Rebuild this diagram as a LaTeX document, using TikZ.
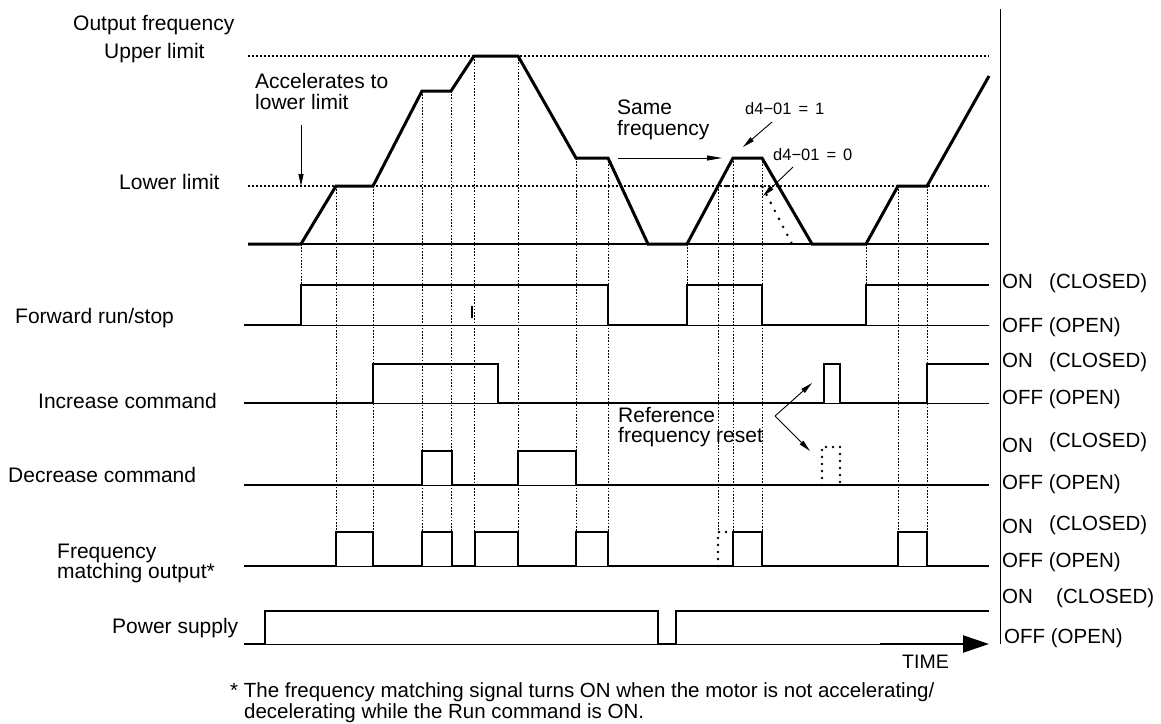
\documentclass[tikz,border=0pt]{standalone}
\usepackage{fontspec}
\setmainfont{Liberation Sans}
\usetikzlibrary{arrows.meta}
\begin{document}
\begin{tikzpicture}[x=1pt,y=-1pt,
  lbl/.style={inner sep=0pt, anchor=base west, font=\fontsize{21}{21}\selectfont},
  rlbl/.style={inner sep=0pt, anchor=base west, font=\fontsize{20.5}{21}\selectfont},
  small/.style={inner sep=0pt, anchor=base west, font=\fontsize{16.5}{17}\selectfont},
  foot/.style={inner sep=0pt, anchor=base west, font=\fontsize{20.5}{21}\selectfont},
  trace/.style={line width=3pt, line join=miter},
  sig/.style={line width=2.7pt, line join=miter},
  thinline/.style={line width=0.9pt},
  vdot/.style={line width=0.7pt, dash pattern=on 1.6pt off 1.6pt},
  limit/.style={line width=1.2pt, dash pattern=on 1.6pt off 2.4pt},
  bigdots/.style={line width=2.8pt, line cap=round, dash pattern=on 0pt off 9pt},
  ann/.style={line width=0.9pt, -{Triangle[length=12pt,width=5pt]}},
]
\useasboundingbox (0,0) rectangle (1161,723);

% limit lines and baseline of output frequency
\draw[limit] (248,56) -- (989,56);
\draw[limit] (248,186) -- (989,186);
\draw[line width=2.4pt] (248,244) -- (989,244);

% vertical dotted guide lines
\foreach \x/\a/\b in {301/244/285, 336/186/532, 373/186/532, 422/91/532, 451/91/532,
  474/56/532, 518/56/532, 576/158/532, 608/158/532, 687/244/285, 718/186/532,
  733/158/532, 762/158/532, 866/244/285, 898/186/532, 927/186/532}
  \draw[vdot] (\x,\a) -- (\x,\b);

% output frequency trace
\draw[trace] (248,244) -- (301,244) -- (336,186) -- (373,186) -- (422,91) -- (451,91)
  -- (474,56) -- (518,56) -- (576,158) -- (608,158) -- (648,244) -- (687,244)
  -- (733,158) -- (762,158) -- (812,244) -- (866,244) -- (898,186) -- (927,186) -- (989,76);
% d4-01 = 0 case
\draw[bigdots] (718,186) -- (762,186) -- (792,244);

% thin OFF levels
\foreach \y in {325,403,485,566}
  \draw[thinline] (244,\y) -- (989,\y);
\draw[thinline] (244,644) -- (965,644);

% Forward run/stop
\draw[sig] (244,325) -- (301,325) -- (301,285) -- (608,285) -- (608,325) -- (687,325)
  -- (687,285) -- (762,285) -- (762,325) -- (866,325) -- (866,285) -- (989,285);
\draw[line width=1.2pt] (472,306) -- (472,318);

% Increase command
\draw[sig] (244,403) -- (373,403) -- (373,364) -- (498,364) -- (498,403) -- (824,403)
  -- (824,364) -- (840,364) -- (840,403) -- (927,403) -- (927,364) -- (989,364);

% Decrease command
\draw[sig] (244,485) -- (422,485) -- (422,451) -- (452,451) -- (452,485) -- (518,485)
  -- (518,451) -- (576,451) -- (576,485) -- (989,485);
\draw[bigdots, dash pattern=on 0pt off 7pt] (822,485) -- (822,447) -- (840,447) -- (840,485);

% Frequency matching output
\draw[sig] (244,566) -- (336,566) -- (336,532) -- (373,532) -- (373,566) -- (422,566)
  -- (422,532) -- (452,532) -- (452,566) -- (475,566) -- (475,532) -- (518,532)
  -- (518,566) -- (576,566) -- (576,532) -- (608,532) -- (608,566) -- (733,566)
  -- (733,532) -- (762,532) -- (762,566) -- (898,566) -- (898,532) -- (927,532)
  -- (927,566) -- (989,566);
\draw[bigdots, dash pattern=on 0pt off 7pt] (718,566) -- (718,532) -- (733,532);

% Power supply
\draw[sig] (244,644) -- (265,644) -- (265,611) -- (658,611) -- (658,644) -- (676,644)
  -- (676,611) -- (989,611);

% time arrow and vertical axis
\coordinate (t0) at (880,644);
\coordinate (t1) at (989,644);
\draw[line width=2.2pt, -{Triangle[length=26pt,width=17pt]}] (t0) -- (t1);
\draw[line width=1pt] (1000,9) -- (1000,644);

% left labels
\node[lbl] (of) at (73,30) {Output frequency};
\node[lbl] (ul) at (104,58) {Upper limit};
\node[lbl] (ll) at (119,189) {Lower limit};
\node[lbl] (fr) at (15,323) {Forward run/stop};
\node[lbl] (ic) at (38,408) {Increase command};
\node[lbl] (dc) at (8,482) {Decrease command};
\node[lbl] (fm1) at (57,558) {Frequency};
\node[lbl] (fm2) at (57,578) {matching output*};
\node[lbl] (ps) at (112,633) {Power supply};

% annotations
\node[lbl] (acc1) at (255,88) {Accelerates to};
\node[lbl] (acc2) at (255,109) {lower limit};
\coordinate (acca) at (301,125);
\coordinate (accb) at (301,186);
\draw[ann] (acca) -- (accb);

\node[lbl] (sf1) at (617,114) {Same};
\node[lbl] (sf2) at (617,135) {frequency};
\coordinate (sfa) at (618,158);
\coordinate (sfb) at (722,158);
\draw[ann, -{Triangle[length=15pt,width=5pt]}] (sfa) -- (sfb);

\node[small] (d1) at (745,114) {d4−01\hspace{7pt}=\hspace{7pt}1};
\coordinate (d1a) at (772,122);
\coordinate (d1b) at (743,147);
\draw[ann] (d1a) -- (d1b);
\node[small] (d0) at (773,160) {d4−01\hspace{7pt}=\hspace{7pt}0};
\coordinate (d0a) at (793,167);
\coordinate (d0b) at (763,196);
\draw[ann] (d0a) -- (d0b);

\node[lbl] (ref1) at (618,422) {Reference};
\node[lbl] (ref2) at (618,442) {frequency reset};
\coordinate (rv) at (775,416);
\coordinate (ru) at (812,383);
\coordinate (rd) at (810,451);
\draw[ann] (rv) -- (ru);
\draw[ann] (rv) -- (rd);

\node[lbl, font=\fontsize{19.5}{20}\selectfont] (time) at (902,668) {TIME};

% right labels
\node[rlbl] (on1) at (1002,288) {ON};
\node[rlbl] (cl1) at (1049,288) {(CLOSED)};
\node[rlbl] (of1) at (1002,332) {OFF (OPEN)};
\node[rlbl] (on2) at (1002,367) {ON};
\node[rlbl] (cl2) at (1049,367) {(CLOSED)};
\node[rlbl] (of2) at (1002,404) {OFF (OPEN)};
\node[rlbl] (on3) at (1002,452) {ON};
\node[rlbl] (cl3) at (1049,447) {(CLOSED)};
\node[rlbl] (of3) at (1002,489) {OFF (OPEN)};
\node[rlbl] (on4) at (1002,533) {ON};
\node[rlbl] (cl4) at (1049,530) {(CLOSED)};
\node[rlbl] (of4) at (1002,567) {OFF (OPEN)};
\node[rlbl] (on5) at (1002,603) {ON};
\node[rlbl] (cl5) at (1056,603) {(CLOSED)};
\node[rlbl] (of5) at (1004,643) {OFF (OPEN)};

% footnote
\node[foot] (fn1) at (230,697) {* The frequency matching signal turns ON when the motor is not accelerating/};
\node[foot] (fn2) at (244,718) {decelerating while the Run command is ON.};
\end{tikzpicture}
\end{document}
